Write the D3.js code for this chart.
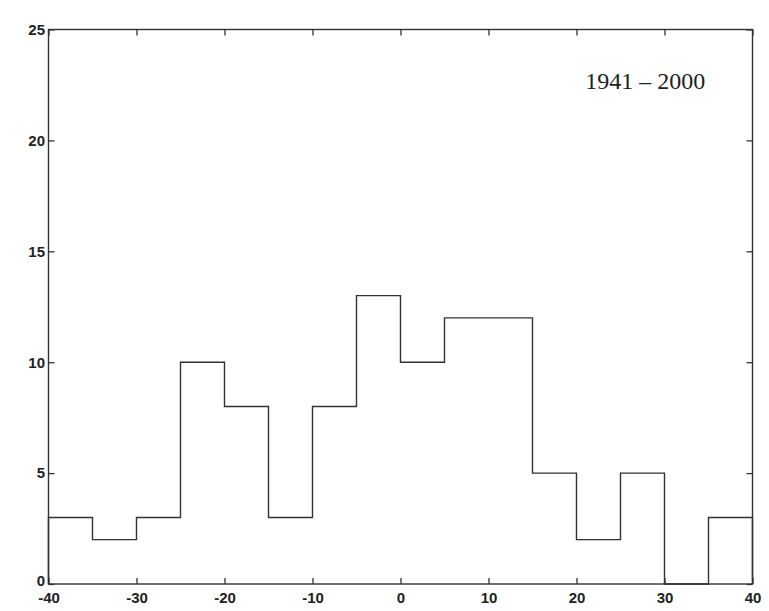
<!DOCTYPE html>
<html>
<head>
<meta charset="utf-8">
<script src="https://cdn.jsdelivr.net/npm/d3@7"></script>
<style>
  body { margin: 0; background: #fff; }
</style>
</head>
<body>
<div id="app"></div>
<script>
// histogram bins (left edges) and counts, 5-unit wide
const binStarts = [-40, -35, -30, -25, -20, -15, -10, -5, 0, 5, 10, 15, 20, 25, 30, 35];
const counts    = [3, 2, 3, 10, 8, 3, 8, 13, 10, 12, 12, 5, 2, 5, 0, 3];
const binWidth = 5;
const xTicks = [-40, -30, -20, -10, 0, 10, 20, 30, 40];
const yTicks = [0, 5, 10, 15, 20, 25];
const label = "1941 \u2013 2000";

const W = 769, H = 611;
const margin = {top: 29.5, right: 16.5, bottom: 27, left: 48.5};
const width = W - margin.left - margin.right,
      height = H - margin.top - margin.bottom;

const svg = d3.select("#app")
  .append("svg")
    .attr("width", W)
    .attr("height", H);

const g = svg.append("g")
  .attr("transform", "translate(" + margin.left + "," + margin.top + ")");

const x = d3.scaleLinear().domain([-40, 40]).range([0, width]);
const y = d3.scaleLinear().domain([0, 25]).range([height, 0]);

const ink = "#333";

// step outline: start at baseline, walk the bin tops, back to baseline
const pts = [[binStarts[0], 0]];
binStarts.forEach((b, i) => {
  pts.push([b, counts[i]]);
  pts.push([b + binWidth, counts[i]]);
});
pts.push([binStarts[binStarts.length - 1] + binWidth, 0]);

const line = d3.line()
  .x(d => x(d[0]))
  .y(d => y(d[1]));

g.append("path")
  .datum(pts)
  .attr("d", line)
  .attr("fill", "none")
  .attr("stroke", ink)
  .attr("stroke-width", 1.4);

// frame
g.append("rect")
  .attr("width", width)
  .attr("height", height)
  .attr("fill", "none")
  .attr("stroke", ink)
  .attr("stroke-width", 1.4);

const fontAxis = "'Liberation Sans', Arial, sans-serif";
const fmt = d => String(d);

// x axis (bottom, ticks inward)
const xAxis = g.append("g")
  .attr("transform", "translate(0," + height + ")")
  .call(d3.axisBottom(x).tickValues(xTicks).tickFormat(fmt).tickSizeInner(-6).tickSizeOuter(0).tickPadding(10));
// top ticks
const xTop = g.append("g")
  .call(d3.axisTop(x).tickValues(xTicks).tickSizeInner(-6).tickSizeOuter(0).tickFormat(""));
// y axis left
const yAxis = g.append("g")
  .call(d3.axisLeft(y).tickValues(yTicks).tickFormat(fmt).tickSizeInner(-6).tickSizeOuter(0).tickPadding(5));
// y right
const yRight = g.append("g")
  .attr("transform", "translate(" + width + ",0)")
  .call(d3.axisRight(y).tickValues(yTicks).tickSizeInner(-6).tickSizeOuter(0).tickFormat(""));

[xAxis, xTop, yAxis, yRight].forEach(a => {
  a.select(".domain").remove();
  a.selectAll("line").attr("stroke", ink).attr("stroke-width", 1.3);
  a.selectAll("text")
    .attr("font-family", fontAxis)
    .attr("font-size", 15)
    .attr("font-weight", "bold")
    .attr("fill", "#222");
});
xAxis.selectAll("text").attr("dy", "0.6em");
yAxis.selectAll("text").attr("dx", "0.1em");
// the "0" sits just above the x labels, as in the original
yAxis.selectAll(".tick").filter(d => d === 0).select("text").attr("dy", "0.1em");

// annotation
g.append("text")
  .attr("x", x(21))
  .attr("y", y(22.3))
  .attr("font-family", "'Liberation Serif', 'DejaVu Serif', serif")
  .attr("font-size", 24)
  .attr("fill", "#222")
  .text(label);
</script>
</body>
</html>
